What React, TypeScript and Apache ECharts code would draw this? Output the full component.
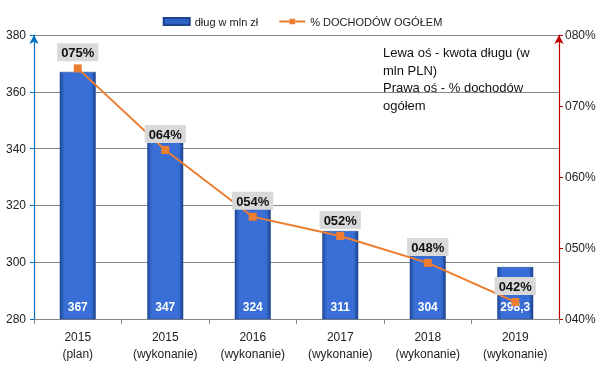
import React, { useEffect, useRef } from "react";
import * as echarts from "echarts";

const categories = [
  "2015\n(plan)",
  "2015\n(wykonanie)",
  "2016\n(wykonanie)",
  "2017\n(wykonanie)",
  "2018\n(wykonanie)",
  "2019\n(wykonanie)",
];
const debtValues = [367, 347, 324, 311, 304, 298.3];
const pctValues = [0.753, 0.638, 0.544, 0.517, 0.479, 0.424];
const seriesNames = ["dług w mln zł", "% DOCHODÓW OGÓŁEM"];
const noteLines = ["Lewa oś - kwota długu (w", "mln PLN)", "Prawa oś - % dochodów", "ogółem"];

const FONT = "Liberation Sans";

const pad3pct = (v: number) => {
  const n = Math.round(v * 100);
  return String(n).padStart(3, "0") + "%";
};

export default function App() {
  const ref = useRef<HTMLDivElement>(null);
  useEffect(() => {
    if (!ref.current) return;
    const chart = echarts.init(ref.current, undefined, { renderer: "svg" });
    const barGrad = new echarts.graphic.LinearGradient(0, 0, 1, 0, [
      { offset: 0, color: "#1f4a9a" },
      { offset: 0.12, color: "#386ed6" },
      { offset: 0.88, color: "#386ed6" },
      { offset: 1, color: "#1c438c" },
    ]);
    chart.setOption({
      animation: false,
      textStyle: { fontFamily: FONT },
      legend: {
        top: 11,
        left: "center",
        itemWidth: 26,
        itemHeight: 7,
        itemGap: 20,
        textStyle: { fontSize: 11, color: "#222", fontFamily: FONT },
        data: [
          { name: seriesNames[0], icon: "rect", itemStyle: { color: "#2f62c4" } },
          { name: seriesNames[1] },
        ],
      },
      grid: { left: 34, right: 46, top: 35, bottom: 61, containLabel: false },
      xAxis: {
        type: "category",
        data: categories,
        axisLine: { lineStyle: { color: "#868686", width: 1 } },
        axisTick: { show: true, length: 5, lineStyle: { color: "#868686" } },
        axisLabel: {
          color: "#222",
          fontSize: 12,
          lineHeight: 17,
          margin: 9,
          fontFamily: FONT,
        },
      },
      yAxis: [
        {
          type: "value",
          min: 280,
          max: 380,
          interval: 20,
          axisLine: {
            show: true,
            lineStyle: { color: "#0070c0", width: 1.2 },
            symbol: ["none", "arrow"],
            symbolSize: [7, 9],
          },
          axisTick: { show: true, length: 4, lineStyle: { color: "#0070c0" } },
          axisLabel: { color: "#222", fontSize: 12, margin: 8, fontFamily: FONT },
          splitLine: { show: true, lineStyle: { color: "#868686", width: 1 } },
        },
        {
          type: "value",
          min: 0.4,
          max: 0.8,
          interval: 0.1,
          position: "right",
          axisLine: {
            show: true,
            lineStyle: { color: "#c00000", width: 1.2 },
            symbol: ["none", "arrow"],
            symbolSize: [7, 9],
          },
          axisTick: { show: true, length: 4, lineStyle: { color: "#c00000" } },
          axisLabel: {
            color: "#222",
            fontSize: 12,
            margin: 6,
            fontFamily: FONT,
            formatter: (v: number) => pad3pct(v),
          },
          splitLine: { show: false },
        },
      ],
      series: [
        {
          name: seriesNames[0],
          type: "bar",
          data: debtValues,
          barWidth: 36,
          itemStyle: { color: barGrad, borderColor: "#1d468f", borderWidth: 0.5 },
          label: {
            show: true,
            position: "insideBottom",
            distance: 6,
            color: "#fff",
            fontWeight: "bold",
            fontSize: 12,
            fontFamily: FONT,
            formatter: (p: any) => String(p.value).replace(".", ","),
          },
          z: 2,
        },
        {
          name: seriesNames[1],
          type: "line",
          yAxisIndex: 1,
          data: pctValues,
          color: "#ed7d31",
          lineStyle: { color: "#ed7d31", width: 2 },
          itemStyle: { color: "#ed7d31" },
          symbol: "rect",
          symbolSize: 8,
          label: {
            show: true,
            position: "top",
            distance: 3,
            color: "#111",
            fontSize: 13,
            fontWeight: "bold",
            fontFamily: FONT,
            backgroundColor: "#d9d9d9",
            padding: [3, 4, 2, 4],
            formatter: (p: any) => pad3pct(p.value),
          },
          z: 5,
        },
      ],
      graphic: [
        {
          type: "text",
          left: 383,
          top: 44,
          style: {
            text: noteLines.join("\n"),
            font: `13px "${FONT}"`,
            lineHeight: 17.5,
            fill: "#111",
          },
          z: 10,
        },
      ],
    });
    return () => chart.dispose();
  }, []);
  return (
    <div
      ref={ref}
      style={{ position: "fixed", left: 0, top: 0, width: 605, height: 380 }}
    />
  );
}
